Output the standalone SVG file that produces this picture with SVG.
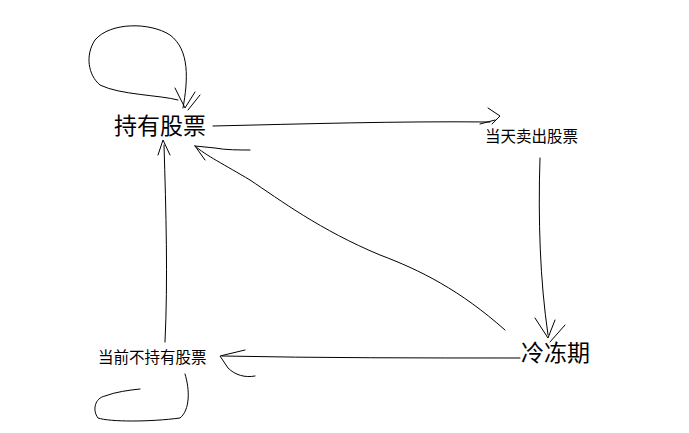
<svg xmlns="http://www.w3.org/2000/svg" width="689" height="433" viewBox="0 0 689 433">
<style>
.c{fill:none;stroke:#000;stroke-width:1;stroke-linecap:round;stroke-linejoin:round}
.big{font-family:"Liberation Sans","Noto Sans CJK SC",sans-serif;font-size:23px;fill:#000}
.sm{font-family:"Liberation Sans","Noto Sans CJK SC",sans-serif;font-size:15.5px;fill:#000}
</style>
<rect width="689" height="433" fill="#fff"/>
<g id="connectors">
<path class="c" d="M183,108 C188,80 190,50 170,35 C150,22 110,22 95,40 C85,55 88,75 100,85 C120,95 160,95 178,100"/>
<path class="c" d="M175,88 L185,108 L195,92 M200,95 L188,110"/>
<path class="c" d="M213,126 C300,124 400,121 490,122"/>
<path class="c" d="M488,108 L500,116 L492,124 M480,124 L495,120"/>
<path class="c" d="M540,158 C538,220 540,280 548,335"/>
<path class="c" d="M535,318 L548,338 L555,320 M565,325 L550,342"/>
<path class="c" d="M520,358 C420,358 320,358 222,356"/>
<path class="c" d="M245,350 L220,356 L228,368 C235,375 245,378 255,376"/>
<path class="c" d="M165,342 C168,280 166,210 164,145"/>
<path class="c" d="M158,155 L163,140 L170,155"/>
<path class="c" d="M505,330 C460,290 420,270 380,255 C320,230 280,200 250,180 C225,165 205,155 195,146"/>
<path class="c" d="M195,146 L215,148 C225,150 240,150 250,150 M195,146 L205,160"/>
<path class="c" d="M185,374 C190,390 190,410 180,418 C150,422 110,422 98,418 C92,410 95,398 105,396 C115,392 130,390 140,389"/>
</g>
<g id="n1"><text class="big" x="114" y="134">持有股票</text></g>
<g id="n2"><text class="sm" x="485" y="142">当天卖出股票</text></g>
<g id="n3"><text class="big" x="521" y="361">冷冻期</text></g>
<g id="n4"><text class="sm" x="98" y="363">当前不持有股票</text></g>
</svg>
